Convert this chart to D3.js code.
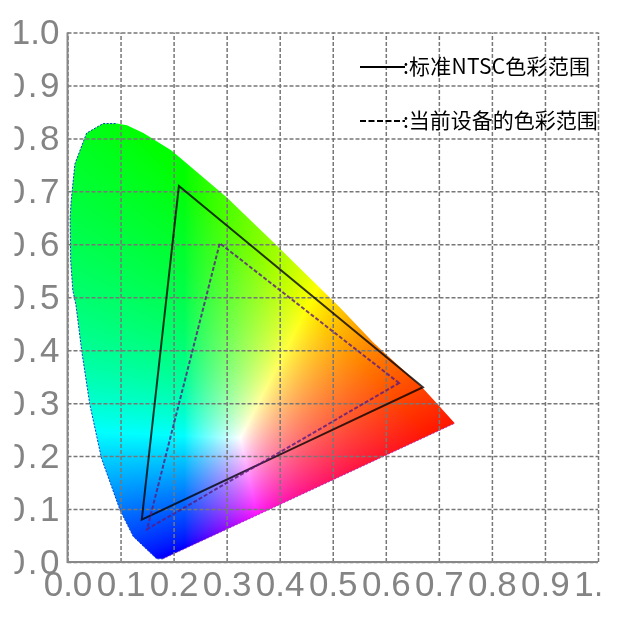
<!DOCTYPE html>
<html>
<head>
<meta charset="utf-8">
<script src="https://cdnjs.cloudflare.com/ajax/libs/d3/7.8.5/d3.min.js"></script>
<style>
  html, body { margin: 0; padding: 0; background: #fff; }
  svg { display: block; filter: blur(0.45px); }
  .tick text { font-family: "Liberation Sans", Arial, sans-serif; font-size: 35px; fill: #848484; }
  .grid line { stroke: #777; stroke-width: 1.5; stroke-dasharray: 4 2; }
  .legend-text { font-family: "Noto Sans CJK SC", sans-serif; font-size: 21px; fill: #000; }
</style>
</head>
<body>
<div id="chart"></div>
<script>
// tick values
var xTicks = [0, 0.1, 0.2, 0.3, 0.4, 0.5, 0.6, 0.7, 0.8, 0.9, 1.0];
var yTicks = [0, 0.1, 0.2, 0.3, 0.4, 0.5, 0.6, 0.7, 0.8, 0.9, 1.0];

// chromaticity outline
var leftEdge = [[0.180,0.006],[0.168,0.006],[0.124,0.048],[0.099,0.098],[0.064,0.196],[0.042,0.298],
  [0.027,0.397],[0.016,0.485],[0.010,0.513],[0.006,0.569],[0.005,0.651],[0.007,0.683],[0.014,0.752],
  [0.036,0.810],[0.067,0.828],[0.093,0.828]];
var rightEdge = [[0.112,0.825],[0.143,0.810],[0.196,0.777],[0.300,0.689],[0.394,0.598],[0.514,0.480],
  [0.576,0.415],[0.670,0.328],[0.696,0.300],[0.730,0.262]];

// triangles
var ntscGamut = [[0.67,0.33],[0.21,0.71],[0.14,0.08]];
var deviceGamut = [[0.625,0.338],[0.287,0.602],[0.150,0.062]];

// anchors of the colour fill
var redAnchor = [0.70,0.22];
var greenAnchor = [0.22,0.72];
var blueAnchor = [0.22,0.03];
var whiteAnchor = [0.325,0.235];
var fillGamma = 1.3;

var legendLabels = [":标准NTSC色彩范围", ":当前设备的色彩范围"];

var canvasW = 627, canvasH = 620;
var xScale = d3.scaleLinear().domain([0,1]).range([67.5,598]);
var yScale = d3.scaleLinear().domain([0,1]).range([562,32.5]);

var svg = d3.select("#chart").append("svg").attr("width",canvasW).attr("height",canvasH);
var defs = svg.append("defs");
var locus = leftEdge.concat(rightEdge);
var lineGen = d3.line().x(function(d){return xScale(d[0]);}).y(function(d){return yScale(d[1]);});

defs.append("clipPath").attr("id","locusClip").append("path").attr("d",lineGen(locus)+"Z");
defs.append("clipPath").attr("id","labelClip").append("rect")
  .attr("x",14.5).attr("y",0).attr("width",586).attr("height",canvasH);

// barycentric weights of a point against the three anchors
function weights(p) {
  var a = redAnchor, b = greenAnchor, c = blueAnchor;
  var det = (b[1]-c[1])*(a[0]-c[0]) + (c[0]-b[0])*(a[1]-c[1]);
  var wa = ((b[1]-c[1])*(p[0]-c[0]) + (c[0]-b[0])*(p[1]-c[1])) / det;
  var wb = ((c[1]-a[1])*(p[0]-c[0]) + (a[0]-c[0])*(p[1]-c[1])) / det;
  return [wa, wb, 1-wa-wb];
}

function drawFill() {
  var w0 = weights(whiteAnchor);
  var left = Math.floor(xScale(0)), right = Math.ceil(xScale(1));
  var top = Math.floor(yScale(1)), bottom = Math.ceil(yScale(0));
  var cv = document.createElement("canvas");
  cv.width = right-left; cv.height = bottom-top;
  var ctx = cv.getContext("2d");
  var img = ctx.createImageData(cv.width,cv.height);
  for (var j=0;j<cv.height;j++) {
    for (var i=0;i<cv.width;i++) {
      var w = weights([xScale.invert(left+i), yScale.invert(top+j)]);
      var r = Math.max(0,w[0]/w0[0]), g = Math.max(0,w[1]/w0[1]), b = Math.max(0,w[2]/w0[2]);
      var m = Math.max(r,g,b) || 1;
      var k = (j*cv.width+i)*4;
      img.data[k] = 255*Math.pow(r/m,1/fillGamma);
      img.data[k+1] = 255*Math.pow(g/m,1/fillGamma);
      img.data[k+2] = 255*Math.pow(b/m,1/fillGamma);
      img.data[k+3] = 255;
    }
  }
  ctx.putImageData(img,0,0);
  svg.append("image").attr("href",cv.toDataURL())
    .attr("x",left).attr("y",top).attr("width",cv.width).attr("height",cv.height)
    .attr("clip-path","url(#locusClip)");
}
drawFill();

// edge of the locus
svg.append("path").attr("d",lineGen(leftEdge)).attr("fill","none").attr("stroke","#0a3cc8")
  .attr("stroke-width",1).attr("stroke-dasharray","2 1.5");
svg.append("path").attr("d",lineGen([leftEdge[0],rightEdge[rightEdge.length-1]]))
  .attr("fill","none").attr("stroke","#a020c0").attr("stroke-width",0.8).attr("stroke-dasharray","2 1.5");

// grid
var xGrid = svg.append("g").attr("class","grid").attr("transform","translate(0,"+yScale(0)+")")
  .call(d3.axisBottom(xScale).tickValues(xTicks).tickSize(yScale(1)-yScale(0)).tickFormat(""));
xGrid.select(".domain").remove();
var yGrid = svg.append("g").attr("class","grid").attr("transform","translate("+xScale(0)+",0)")
  .call(d3.axisLeft(yScale).tickValues(yTicks).tickSize(xScale(0)-xScale(1)).tickFormat(""));
yGrid.select(".domain").remove();

// solid left and bottom axis
svg.append("path").attr("fill","none").attr("stroke","#888").attr("stroke-width",2)
  .attr("d",lineGen([[0,1],[0,0],[1,0]]));

// tick labels, clipped the way the original is
var labels = svg.append("g").attr("clip-path","url(#labelClip)");
var xAxis = labels.append("g").attr("transform","translate(0,"+yScale(0)+")")
  .call(d3.axisBottom(xScale).tickValues(xTicks).tickSize(0).tickPadding(9).tickFormat(d3.format(".1f")));
xAxis.select(".domain").remove();
var yAxis = labels.append("g").attr("transform","translate("+xScale(0)+",0)")
  .call(d3.axisLeft(yScale).tickValues(yTicks).tickSize(0).tickPadding(8).tickFormat(d3.format(".1f")));
yAxis.select(".domain").remove();
// the cut off zeros sit further left than the 1 of 1.0
yAxis.selectAll("text").filter(function(d){return d<1;})
  .attr("letter-spacing","2.5px").attr("dx","2.5px");

// triangles
svg.append("path").attr("d",lineGen(ntscGamut)+"Z").attr("fill","none")
  .attr("stroke","#000").attr("stroke-opacity",0.78).attr("stroke-width",2);
svg.append("path").attr("d",lineGen(deviceGamut)+"Z").attr("fill","none")
  .attr("stroke","#5a1a80").attr("stroke-opacity",0.8).attr("stroke-width",2).attr("stroke-dasharray","4 2");

// legend
var legendY = d3.scalePoint().domain(legendLabels).range([67,121]);
var legend = svg.selectAll(".legend").data(legendLabels).enter().append("g").attr("class","legend")
  .attr("transform",function(d){return "translate(0,"+legendY(d)+")";});
legend.append("line").attr("x1",360).attr("x2",405).attr("y1",0).attr("y2",0)
  .attr("stroke","#000").attr("stroke-width",2)
  .attr("stroke-dasharray",function(d,i){return i==1 ? "6 2.5" : null;});
legend.append("text").attr("class","legend-text").attr("x",403).attr("y",7)
  .attr("textLength",function(d,i){return i==0 ? 187 : null;})
  .text(function(d){return d;});
</script>
</body>
</html>
